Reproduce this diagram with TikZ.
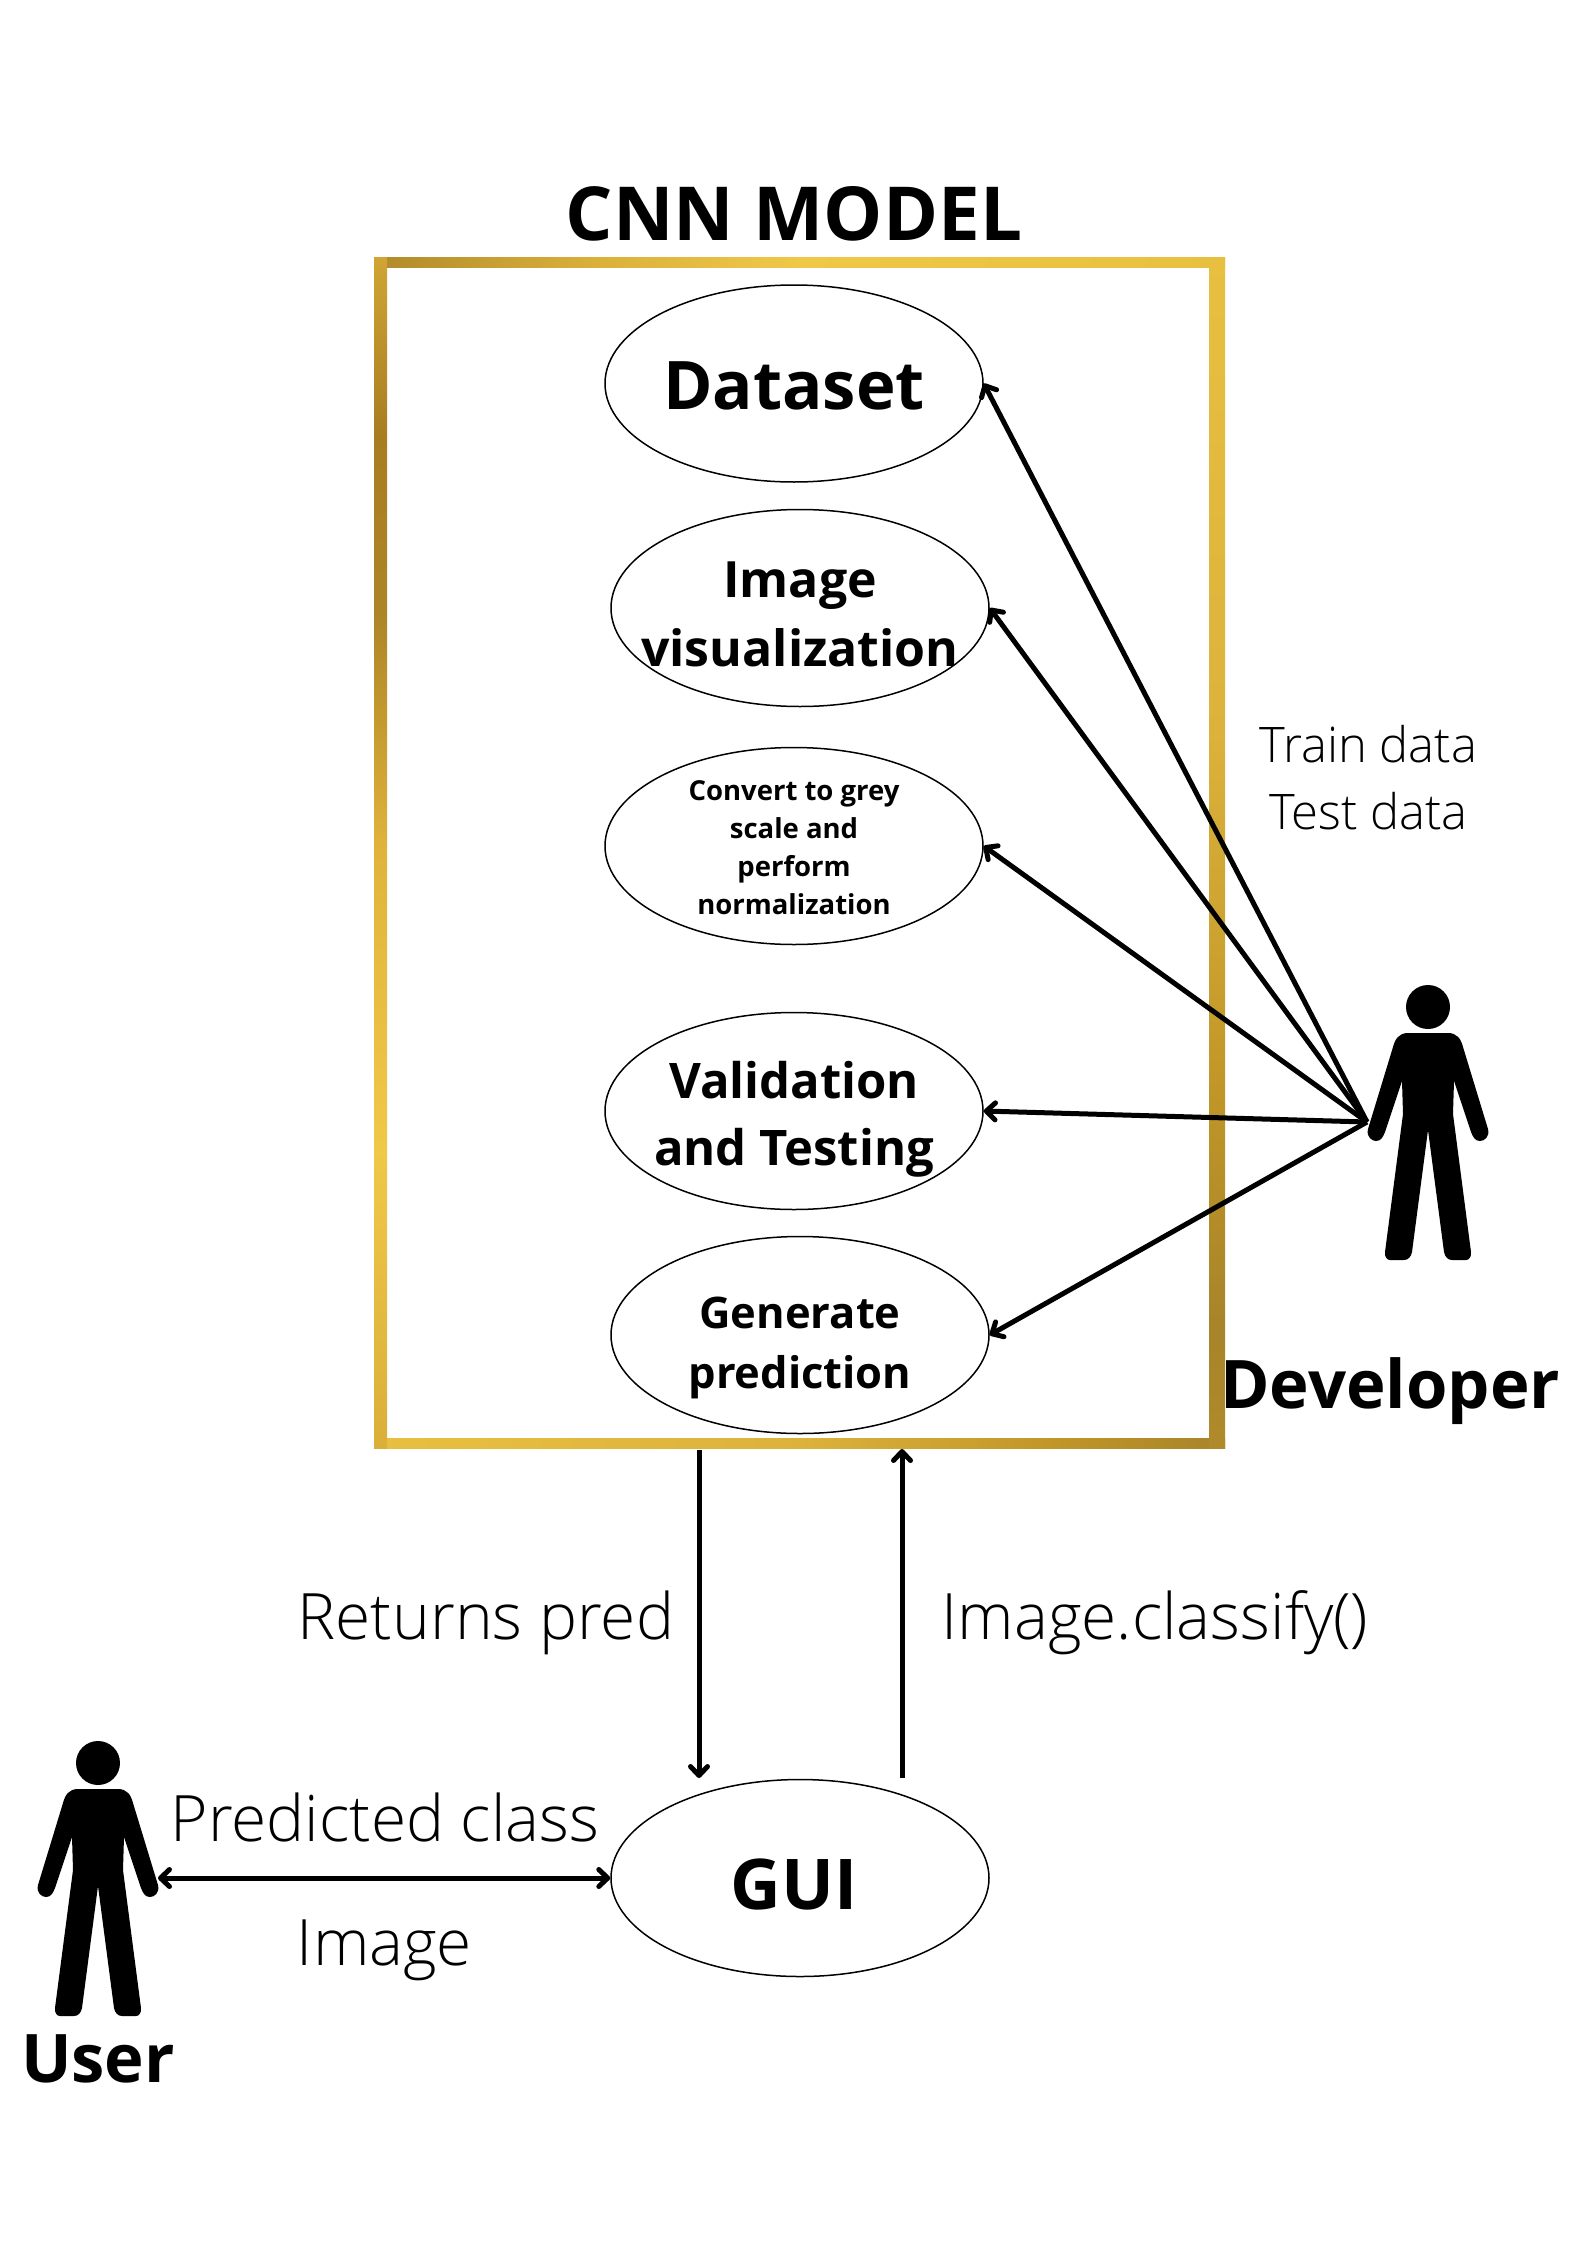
\documentclass[tikz,border=0pt]{standalone}
\usepackage{fontspec}
\setmainfont{Open Sans}
\newfontfamily\lightfont{Open Sans Light}
\usetikzlibrary{shapes.geometric,arrows.meta}
\newcommand{\fs}[1]{\fontsize{#1}{#1}\selectfont}
\definecolor{ga}{HTML}{D0A535}
\definecolor{gb}{HTML}{A87D20}
\definecolor{gc}{HTML}{AD8526}
\definecolor{gd}{HTML}{E0B43C}
\definecolor{ge}{HTML}{F0C848}
\definecolor{gf}{HTML}{D9AF3A}
\definecolor{gg}{HTML}{E8C040}
\definecolor{gh}{HTML}{DCB23C}
\definecolor{gi}{HTML}{C09628}
\definecolor{gj}{HTML}{A8842A}
\definecolor{gk}{HTML}{B08A2A}
\pgfdeclareverticalshading{leftbar}{100bp}{color(0bp)=(gf); color(25bp)=(gf); color(37.5bp)=(ge); color(50bp)=(gd); color(60bp)=(gc); color(67.5bp)=(gb); color(75bp)=(ga); color(100bp)=(ga)}
\pgfdeclareverticalshading{rightbar}{100bp}{color(0bp)=(gk); color(25bp)=(gk); color(30bp)=(gj); color(40bp)=(gi); color(55bp)=(gh); color(75bp)=(gg); color(100bp)=(gg)}
\pgfdeclarehorizontalshading{topbar}{100bp}{color(0bp)=(gk); color(25bp)=(gk); color(37.5bp)=(gf); color(50bp)=(ge); color(75bp)=(gg); color(100bp)=(gg)}
\pgfdeclarehorizontalshading{botbar}{100bp}{color(0bp)=(gg); color(25bp)=(gg); color(50bp)=(gh); color(65bp)=(gi); color(75bp)=(gj); color(100bp)=(gj)}
\tikzset{
  stage/.style={ellipse,draw=black,line width=1.5pt,minimum width=378pt,minimum height=197pt,inner sep=0pt},
  boldtxt/.style={font=\bfseries,align=center,inner sep=0pt,anchor=base},
  lighttxt/.style={font=\lightfont,inner sep=0pt,anchor=base},
  conn/.style={line width=5pt,-{Straight Barb[round,length=9pt,width=17pt,line width=5pt]}},
  conn2/.style={line width=5pt,{Straight Barb[round,length=9pt,width=17pt,line width=5pt]}-{Straight Barb[round,length=9pt,width=17pt,line width=5pt]}},
  person/.pic={
    \fill[black] (0,0) circle (22);
    \fill[black] (-20,26) .. controls (-29,26) and (-33,32) .. (-35,40) -- (-60,122)
      .. controls (-62,130) and (-56,134) .. (-52,134) .. controls (-47,134) and (-45,130) .. (-43,125)
      -- (-26,74) -- (-25,107) -- (-43,245) .. controls (-43.5,250) and (-41,253) .. (-38,253)
      -- (-24,253) .. controls (-20,253) and (-17,250) .. (-16,245) -- (0,123)
      -- (16,245) .. controls (17,250) and (20,253) .. (24,253) -- (38,253)
      .. controls (41,253) and (43.5,250) .. (43,245) -- (25,107) -- (26,74) -- (43,125)
      .. controls (45,130) and (47,134) .. (52,134) .. controls (56,134) and (62,130) .. (60,122)
      -- (35,40) .. controls (33,32) and (29,26) .. (20,26) -- cycle;
  }
}
\begin{document}
\begin{tikzpicture}[x=1pt,y=-1pt]
\useasboundingbox (0,0) rectangle (1587,2245);
\fill[white] (0,0) rectangle (1587,2245);
% gold frame
\shade[shading=topbar] (374,257) rectangle (1225,267);
\shade[shading=botbar] (374,1438) rectangle (1225,1448);
\shade[shading=leftbar] (374,257) rectangle (387,1448);
\shade[shading=rightbar] (1209,257) rectangle (1225,1448);
% stages
\node[stage] (dataset) at (794,383.5) {};
\node[stage] (imgvis) at (800,608) {};
\node[stage] (grey) at (794,846) {};
\node[stage] (valid) at (794,1111) {};
\node[stage] (gen) at (800,1335) {};
\node[stage] (gui) at (800,1878) {};
% texts
\node[boldtxt] (title) at (794,240.5) {\fs{74.5}CNN MODEL};
\node[boldtxt] (tdataset) at (794,409.5) {\fs{67}Dataset};
\node[boldtxt] (timg1) at (800,597.5) {\fs{50}Image};
\node[boldtxt] (timg2) at (800,666.5) {\fs{50}visualization};
\node[boldtxt] (tg1) at (794,800.5) {\fs{27.5}Convert to grey};
\node[boldtxt] (tg2) at (794,838.5) {\fs{27.5}scale and};
\node[boldtxt] (tg3) at (794,876.5) {\fs{27.5}perform};
\node[boldtxt] (tg4) at (794,914.5) {\fs{27.5}normalization};
\node[boldtxt] (tv1) at (794,1098.5) {\fs{49}Validation};
\node[boldtxt] (tv2) at (794,1165) {\fs{49}and Testing};
\node[boldtxt] (tp1) at (800,1328.5) {\fs{43.5}Generate};
\node[boldtxt] (tp2) at (800,1388) {\fs{43.5}prediction};
\node[boldtxt] (tgui) at (794,1909) {\fs{70}GUI};
\node[boldtxt,anchor=base west] (tdev) at (1220,1408) {\fs{67}Developer};
\node[boldtxt] (tuser) at (98,2082) {\fs{67}User};
\node[lighttxt] (ttrain) at (1368.5,762) {\fs{49}Train data};
\node[lighttxt] (ttest) at (1368.5,829) {\fs{49}Test data};
\node[lighttxt] (tret) at (486,1639) {\fs{64}Returns pred};
\node[lighttxt] (tcls) at (1155,1639) {\fs{64}Image.classify()};
\node[lighttxt] (tpc) at (385,1841) {\fs{64}Predicted class};
\node[lighttxt] (timg) at (384.5,1965) {\fs{64}Image};
% people
\pic at (1428,1007) {person};
\pic at (98,1763) {person};
% connectors
\coordinate (devhand) at (1367,1122);
\coordinate (userhand) at (158,1878);
\coordinate (retA) at (699,1450);
\coordinate (retB) at (699,1778);
\coordinate (clsA) at (902,1778);
\coordinate (clsB) at (902,1449);
\draw[conn] (devhand) -- (dataset.east);
\draw[conn] (devhand) -- (imgvis.east);
\draw[conn] (devhand) -- (grey.east);
\draw[conn] (devhand) -- (valid.east);
\draw[conn] (devhand) -- (gen.east);
\draw[conn] (retA) -- (retB);
\draw[conn] (clsA) -- (clsB);
\draw[conn2] (userhand) -- (gui.west);
\end{tikzpicture}
\end{document}
